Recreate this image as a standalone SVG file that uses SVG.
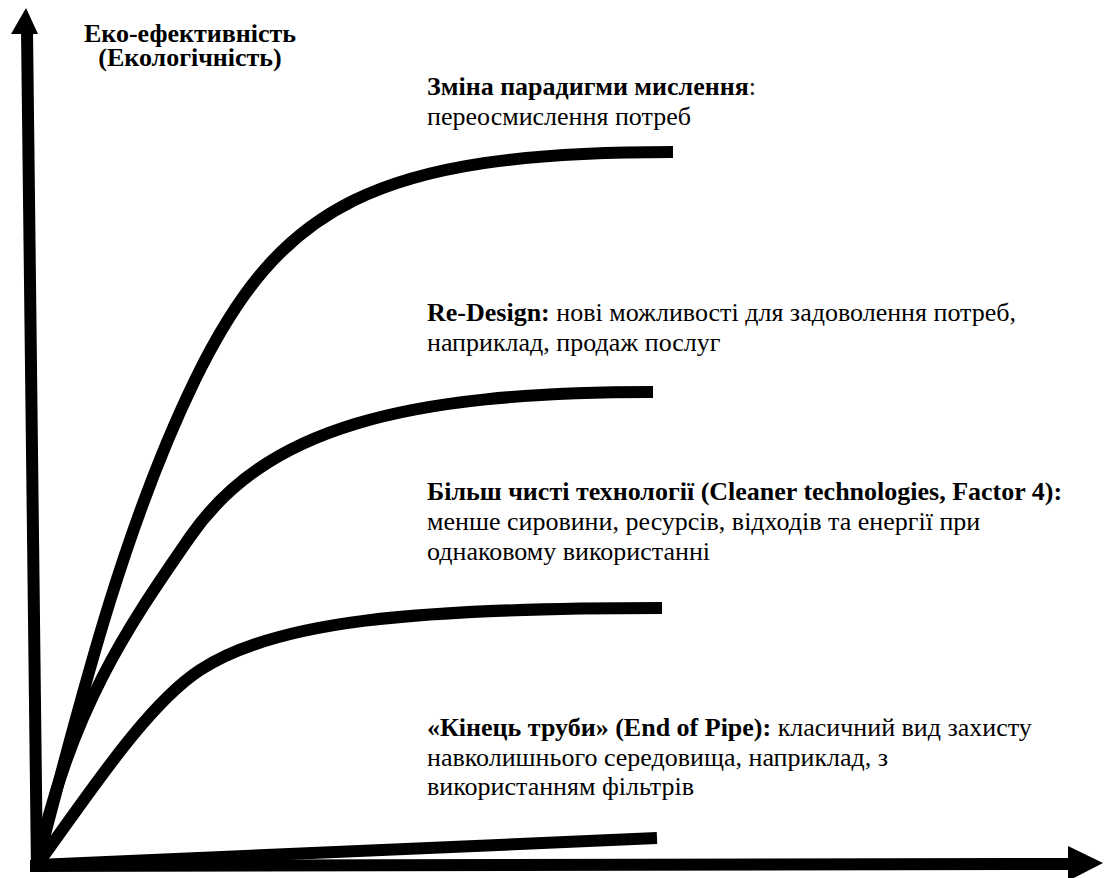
<svg xmlns="http://www.w3.org/2000/svg" width="1104" height="878" viewBox="0 0 1104 878">
<style>
  .ax { stroke: #000; stroke-width: 12; fill: none; stroke-linecap: butt; }
  .cv { stroke: #000; stroke-width: 12; fill: none; stroke-linecap: butt; stroke-linejoin: round; }
  .head { fill: #000; stroke: none; }
  text { font-family: "Liberation Serif", "Times New Roman", serif; fill: #000; }
  .lbl { font-size: 26px; font-weight: bold; text-anchor: middle; }
  .t { font-size: 26px; }
  .b { font-weight: bold; }
</style>
<rect width="1104" height="878" fill="#fff"/>
<g id="axes">
  <line class="ax" x1="37" y1="872" x2="27" y2="30"/>
  <polygon class="head" points="11,34 26,8 38,34"/>
  <line class="ax" x1="30" y1="866" x2="1070" y2="864"/>
  <polygon class="head" points="1068,846 1103,863 1068,881"/>
</g>
<g id="connectors">
  <path class="cv" d="M37,865 C79,705 123,528 195,380 C280,205.75 373,152 673,152"/>
  <path class="cv" d="M37,865 C69.3,708 135,616.75 190,537 C265,428.25 403,392 653,392"/>
  <path class="cv" d="M37,865 C85,800 145,706 200,670 C275,621 412,608 662,608"/>
  <path class="cv" d="M37,865 L657,838"/>
</g>
<g id="axis-label">
  <text class="lbl" x="190" y="42">Еко-ефективність</text>
  <text class="lbl" x="190" y="66">(Екологічність)</text>
</g>
<g id="node-paradigm">
  <text class="t" x="427" y="95"><tspan class="b">Зміна парадигми мислення</tspan>:</text>
  <text class="t" x="427" y="125">переосмислення потреб</text>
</g>
<g id="node-redesign">
  <text class="t" x="427" y="321"><tspan class="b">Re-Design:</tspan> нові можливості для задоволення потреб,</text>
  <text class="t" x="427" y="351">наприклад, продаж послуг</text>
</g>
<g id="node-cleaner">
  <text class="t b" x="427" y="500">Більш чисті технології (Cleaner technologies, Factor 4):</text>
  <text class="t" x="427" y="530">менше сировини, ресурсів, відходів та енергії при</text>
  <text class="t" x="427" y="560">однаковому використанні</text>
</g>
<g id="node-endofpipe">
  <text class="t" x="427" y="736"><tspan class="b">«Кінець труби» (End of Pipe):</tspan> класичний вид захисту</text>
  <text class="t" x="427" y="766">навколишнього середовища, наприклад, з</text>
  <text class="t" x="427" y="795">використанням фільтрів</text>
</g>
</svg>
